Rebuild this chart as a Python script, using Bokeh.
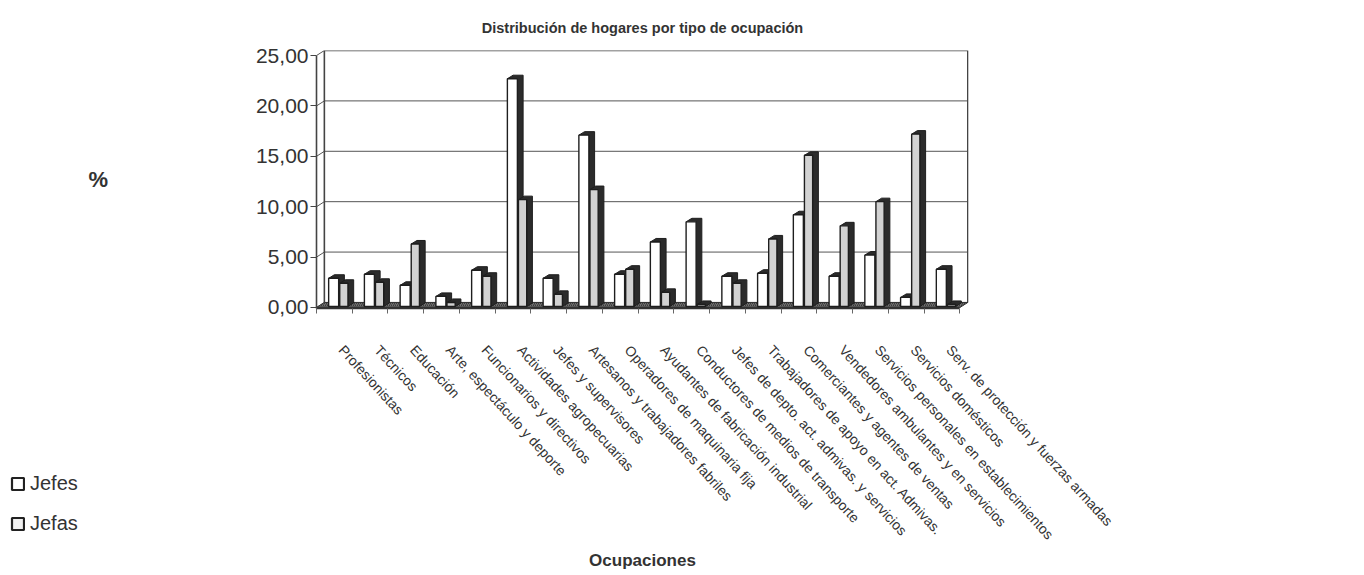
from bokeh.plotting import figure
from bokeh.layouts import row
from bokeh.models import Range1d, FixedTicker, Legend, LegendItem
from bokeh.embed import file_html
from bokeh.resources import INLINE

# ---------------- data ----------------
CATEGORIES = [
    "Profesionistas",
    "Técnicos",
    "Educación",
    "Arte, espectáculo y deporte",
    "Funcionarios y directivos",
    "Actividades agropecuarias",
    "Jefes y supervisores",
    "Artesanos y trabajadores fabriles",
    "Operadores de maquinaria fija",
    "Ayudantes de fabricación industrial",
    "Conductores  de medios de transporte",
    "Jefes de depto. act. admivas. y servicios",
    "Trabajadores de apoyo en act. Admivas.",
    "Comerciantes y agentes de ventas",
    "Vendedores ambulantes y en servicios",
    "Servicios personales en establecimientos",
    "Servicios domésticos",
    "Serv. de protección y fuerzas armadas",
]
JEFES = [2.6, 3.0, 1.9, 0.8, 3.4, 22.4, 2.6, 16.8, 3.0, 6.2, 8.2, 2.8, 3.1, 8.9, 2.8, 4.9, 0.7, 3.5]
JEFAS = [2.1, 2.2, 6.0, 0.2, 2.8, 10.4, 1.0, 11.4, 3.5, 1.2, 0.0, 2.1, 6.5, 14.8, 7.8, 10.2, 16.9, 0.0]
SERIES = ["Jefes", "Jefas"]
Y_TICKS = [0, 5, 10, 15, 20, 25]
Y_TICK_LABELS = ["0,00", "5,00", "10,00", "15,00", "20,00", "25,00"]
TITLE = "Distribución de hogares por tipo de ocupación"
X_TITLE = "Ocupaciones"
Y_TITLE = "%"

# ---------------- style ----------------
FONT = "Liberation Sans"
TXT = "#333333"
DARK = "#2b2b2b"
N = len(CATEGORIES)
DEPTH_X = 0.22   # floor / wall depth (category units)
DEPTH_Y = 0.5    # floor / wall depth (value units)
BAR_DX = 0.16
BAR_DY = 0.35
BAR_BASE = -0.4
LABEL_SHIFT = 0.7
BAR_POS = {"Jefes": (0.34, 0.62), "Jefas": (0.65, 0.88)}
BAR_FILL = {"Jefes": "#ffffff", "Jefas": "#d2d2d2"}
LEGEND_FILL = {"Jefes": "#ffffff", "Jefas": "#f0f0f0"}

H = 575
LW = 80            # legend strip width
W = 1364 - LW      # main chart width

p = figure(width=W, height=H,
           x_range=Range1d(0, N + 0.24), y_range=Range1d(-0.6, 25),
           output_backend="svg", toolbar_location=None,
           min_border_left=316 - LW, min_border_right=W - (968 - LW),
           min_border_top=50, min_border_bottom=H - 308)
p.outline_line_color = None
p.xgrid.visible = False
p.ygrid.visible = False
p.background_fill_color = "white"

# title
p.title.text = TITLE
p.title.align = "center"
p.title.offset = 3
p.title.standoff = 29
p.title.text_font = FONT
p.title.text_font_style = "bold"
p.title.text_font_size = "14.5px"
p.title.text_color = TXT

# back wall gridlines
grid_vals = [t for t in Y_TICKS if t < Y_TICKS[-1]]
p.segment(x0=[DEPTH_X] * len(grid_vals), x1=[N + DEPTH_X] * len(grid_vals),
          y0=grid_vals, y1=grid_vals, line_color="#555555", line_width=1)
# left wall diagonals
p.segment(x0=[0] * len(Y_TICKS), x1=[DEPTH_X] * len(Y_TICKS),
          y0=[t - DEPTH_Y for t in Y_TICKS], y1=Y_TICKS,
          line_color="#555555", line_width=1)
# back wall border
p.line(x=[DEPTH_X, DEPTH_X, N + DEPTH_X, N + DEPTH_X],
       y=[0, Y_TICKS[-1], Y_TICKS[-1], 0], line_color="#444444", line_width=1.6)

# floor
p.patch(x=[0, N, N + DEPTH_X, DEPTH_X], y=[-DEPTH_Y, -DEPTH_Y, 0, 0],
        fill_color="#6f6f6f", hatch_pattern="/", hatch_color="#3a3a3a",
        hatch_scale=4, line_color="#333333", line_width=1)

for name, vals in zip(SERIES, [JEFES, JEFAS]):
    a, b = BAR_POS[name]
    xs, ys, lefts, rights, tops, bottoms = [], [], [], [], [], []
    for i, v in enumerate(vals):
        x0, x1 = i + a, i + b
        top = max(v - 0.2, BAR_BASE)
        xs.append([x0, x0 + BAR_DX, x1 + BAR_DX, x1 + BAR_DX, x1, x1])
        ys.append([top, top + BAR_DY, top + BAR_DY, BAR_BASE + BAR_DY, BAR_BASE, top])
        lefts.append(x0); rights.append(x1); tops.append(top); bottoms.append(BAR_BASE)
    p.patches(xs=xs, ys=ys, fill_color=DARK, line_color="#1e1e1e", line_width=1)
    p.quad(left=lefts, right=rights, top=tops, bottom=bottoms,
           fill_color=BAR_FILL[name], line_color="#1e1e1e", line_width=1.4)

# y axis (front plane)
p.yaxis.ticker = FixedTicker(ticks=[t - DEPTH_Y for t in Y_TICKS])
p.yaxis.major_label_overrides = {t - DEPTH_Y: lab for t, lab in zip(Y_TICKS, Y_TICK_LABELS)}
p.yaxis.bounds = (-0.6, Y_TICKS[-1] - DEPTH_Y)
p.yaxis.major_tick_out = 6
p.yaxis.major_tick_in = 0
p.yaxis.minor_tick_out = 0
p.yaxis.minor_tick_in = 0
p.yaxis.major_label_standoff = 2
p.yaxis.major_label_text_font = FONT
p.yaxis.major_label_text_font_size = "21px"
p.yaxis.major_label_text_color = TXT
p.yaxis.axis_line_color = "#444444"
p.yaxis.axis_line_width = 1.6
p.yaxis.major_tick_line_color = "#444444"
p.yaxis.axis_label = Y_TITLE
p.yaxis.axis_label_orientation = "horizontal"
p.yaxis.axis_label_standoff = 145
p.yaxis.axis_label_text_font = FONT
p.yaxis.axis_label_text_font_style = "bold"
p.yaxis.axis_label_text_font_size = "22px"
p.yaxis.axis_label_text_color = TXT

# x axis
p.xaxis.ticker = FixedTicker(ticks=[i + LABEL_SHIFT for i in range(N)], minor_ticks=list(range(N + 1)))
p.xaxis.major_label_overrides = {i + LABEL_SHIFT: c for i, c in enumerate(CATEGORIES)}
p.xaxis.bounds = (0, N)
p.xaxis.major_tick_out = 0
p.xaxis.major_tick_in = 0
p.xaxis.minor_tick_out = 5
p.xaxis.minor_tick_in = 0
p.xaxis.minor_tick_line_color = "#666666"
p.xaxis.major_label_orientation = -0.83
p.xaxis.major_label_standoff = 34
p.xaxis.major_label_text_font = FONT
p.xaxis.major_label_text_font_size = "14px"
p.xaxis.major_label_text_color = TXT
p.xaxis.axis_line_color = "#333333"
p.xaxis.axis_line_width = 1.5
p.xaxis.axis_label = X_TITLE
p.xaxis.axis_label_standoff = 0
p.xaxis.axis_label_text_font = FONT
p.xaxis.axis_label_text_font_style = "bold"
p.xaxis.axis_label_text_font_size = "17px"
p.xaxis.axis_label_text_color = TXT

# legend strip
lg = figure(width=LW, height=H, x_range=Range1d(0, 1), y_range=Range1d(0, 1),
            x_axis_type=None, y_axis_type=None, output_backend="svg",
            toolbar_location=None, min_border_left=0, min_border_right=0,
            min_border_top=0, min_border_bottom=30)
lg.outline_line_color = None
lg.xgrid.visible = False
lg.ygrid.visible = False
for fig in (lg, p):
    try:
        fig.frame_align = False
    except Exception:
        pass
items = []
for name in SERIES:
    # placeholder glyph kept outside the visible range: only its legend swatch shows
    r = lg.quad(left=[2], right=[3], top=[2], bottom=[3], fill_color=LEGEND_FILL[name],
                line_color="#222222", line_width=2.2)
    items.append(LegendItem(label=name, renderers=[r]))
legend = Legend(items=items, location="bottom_left", padding=0, margin=10,
                border_line_color=None, background_fill_alpha=0,
                glyph_width=15, glyph_height=15, label_height=20, spacing=17,
                label_standoff=5, label_text_font=FONT, label_text_font_size="20px",
                label_text_color=TXT)
lg.add_layout(legend)

layout = row(lg, p, spacing=0)
open("out.html", "w").write(file_html(layout, INLINE))
